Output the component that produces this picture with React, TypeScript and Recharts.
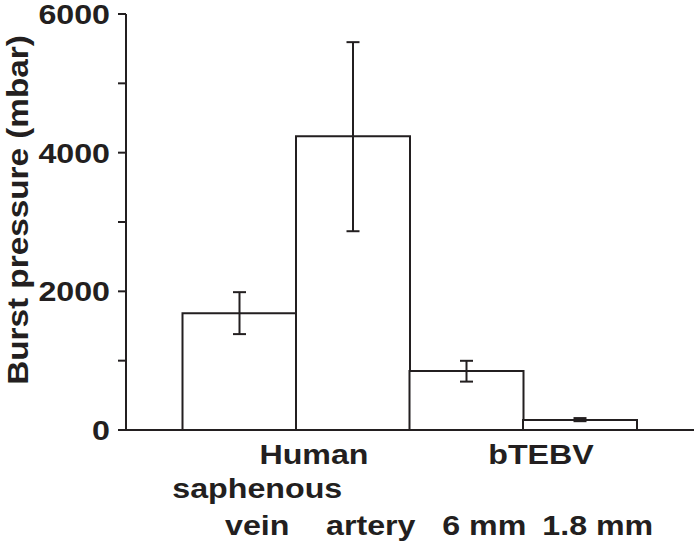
import React from "react";
import { Bar, BarChart, ErrorBar, XAxis, YAxis } from "recharts";

const categories = ["vein", "artery", "6 mm", "1.8 mm"];
const subLabels = ["saphenous", "", "", ""];
const groupLabels = ["Human", "", "bTEBV", ""];
const burstPressure = [1685, 4235, 850, 145];
const lowerBound = [1383, 2867, 698, 127];
const upperBound = [1988, 5594, 998, 172];
const yTicks = [0, 1000, 2000, 3000, 4000, 5000, 6000];

const INK = "#231f20";
const FONT = '"Liberation Sans", Arial, Helvetica, sans-serif';

const WIDTH = 694;
const HEIGHT = 543;
const Y_AXIS_W = 126;
const PAD_L = 56.5;
const PAD_R = 57.5;
const STEP = (WIDTH - Y_AXIS_W - PAD_L - PAD_R) / categories.length;
const SHIFT = 18;

const data = categories.map((name, i) => ({
  name,
  value: burstPressure[i],
  err: [burstPressure[i] - lowerBound[i], upperBound[i] - burstPressure[i]],
}));

function Stretched({ x, y, children, anchor = "middle" }: any) {
  return (
    <text
      transform={`translate(${x},${y}) scale(1.15,1)`}
      textAnchor={anchor}
      fontFamily={FONT}
      fontWeight="bold"
      fontSize={28}
      fill={INK}
    >
      {children}
    </text>
  );
}

function CategoryTick(props: any) {
  const { x, y, payload } = props;
  const i = payload.index;
  const cx = x + SHIFT;
  return (
    <g>
      {groupLabels[i] && (
        <Stretched x={cx + STEP / 2} y={y + 34}>
          {groupLabels[i]}
        </Stretched>
      )}
      {subLabels[i] && (
        <Stretched x={cx} y={y + 68}>
          {subLabels[i]}
        </Stretched>
      )}
      <Stretched x={cx} y={y + 105}>
        {categories[i]}
      </Stretched>
    </g>
  );
}

function ValueTick(props: any) {
  const { x, y, payload } = props;
  if (payload.value % 2000 !== 0) return null;
  return (
    <Stretched x={x} y={y + 10} anchor="end">
      {payload.value}
    </Stretched>
  );
}

function YLabel(props: any) {
  const vb = props.viewBox || { x: 0, y: 14, width: Y_AXIS_W, height: 416 };
  const cy = vb.y + vb.height / 2 - 12;
  return (
    <text
      transform={`translate(28,${cy}) rotate(-90) scale(1.11,1)`}
      textAnchor="middle"
      fontFamily={FONT}
      fontWeight="bold"
      fontSize={30}
      fill={INK}
    >
      Burst pressure (mbar)
    </text>
  );
}

export default function App() {
  return (
    <div
      style={{
        position: "absolute",
        left: 0,
        top: 0,
        width: WIDTH,
        height: HEIGHT,
        background: "#fff",
      }}
    >
      <BarChart
        width={WIDTH}
        height={HEIGHT}
        data={data}
        margin={{ top: 14, right: 0, bottom: 0, left: 0 }}
        barCategoryGap={0}
      >
        <XAxis
          dataKey="name"
          height={113}
          padding={{ left: PAD_L, right: PAD_R }}
          axisLine={{ stroke: INK, strokeWidth: 2 }}
          tickLine={false}
          tickSize={0}
          tickMargin={0}
          interval={0}
          tick={<CategoryTick />}
        />
        <YAxis
          width={Y_AXIS_W}
          domain={[0, 6000]}
          ticks={yTicks}
          interval={0}
          tickSize={8}
          tickMargin={8}
          axisLine={{ stroke: INK, strokeWidth: 2 }}
          tickLine={{ stroke: INK, strokeWidth: 2 }}
          tick={<ValueTick />}
          label={<YLabel />}
        />
        <Bar
          dataKey="value"
          fill="#fff"
          stroke={INK}
          strokeWidth={2}
          isAnimationActive={false}
        >
          <ErrorBar
            dataKey="err"
            width={6.5}
            stroke={INK}
            strokeWidth={2}
            isAnimationActive={false}
          />
        </Bar>
      </BarChart>
    </div>
  );
}
